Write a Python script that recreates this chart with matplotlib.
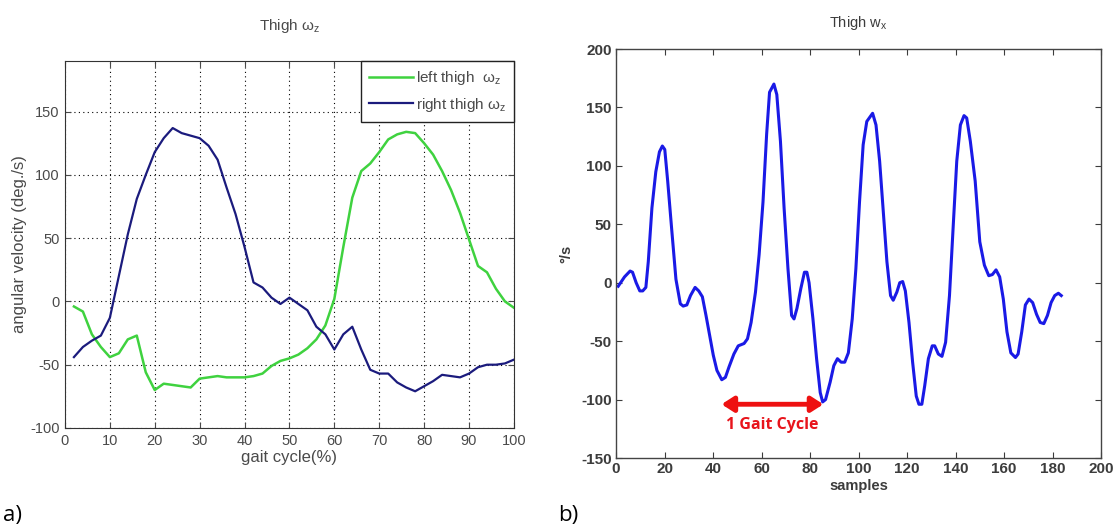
"""Thigh angular velocity: a) left/right thigh over gait cycle, b) raw thigh w_x samples."""
import matplotlib
matplotlib.use("Agg")
import matplotlib.pyplot as plt

plt.rcParams["font.family"] = ["Liberation Sans", "DejaVu Sans"]
plt.rcParams["mathtext.fontset"] = "custom"
plt.rcParams["mathtext.rm"] = "Liberation Sans"
plt.rcParams["mathtext.bf"] = "Liberation Sans:bold"
plt.rcParams["axes.unicode_minus"] = False

# ---- panel a) data: gait cycle (%) vs angular velocity (deg/s)
GAIT = list(range(2, 101, 2))
LEFT_THIGH = [-4, -8, -26, -36, -44, -41, -30, -27, -56, -70,
              -65, -66, -67, -68, -61, -60, -59, -60, -60, -60,
              -59, -57, -51, -47, -45, -42, -37, -30, -19, 2,
              43, 82, 103, 109, 118, 128, 132, 134, 133, 125,
              116, 103, 88, 70, 49, 28, 23, 10, 0, -5]
RIGHT_THIGH = [-44, -36, -31, -27, -13, 20, 53, 81, 100, 118,
               129, 137, 133, 131, 129, 123, 112, 90, 69, 43,
               15, 11, 3, -2, 3, -2, -7, -20, -26, -38,
               -26, -20, -38, -54, -57, -57, -64, -68, -71, -67,
               -63, -58, -59, -60, -57, -52, -50, -50, -49, -46]

# ---- panel b) data: sample index vs thigh w_x (deg/s)
SAMPLES = [0.9, 3.5, 5.8, 6.8, 8.3, 9.8, 11, 12.3, 13.3, 14.8, 16.4, 17.9, 19.1,
           20.1, 21.3, 22.9, 24.7, 26.5, 27.7, 29.2, 30.7, 32.6, 34.1, 35.6, 37.1,
           38.6, 40.1, 41.6, 43.6, 45.1, 46.6, 48.6, 50.4, 52.8, 54.2, 55.7, 57.5,
           59, 60.6, 62.1, 63.3, 65.1, 66.3, 67.8, 69.3, 70.9, 72.4, 73.4, 74.6,
           76.2, 77.7, 78.7, 79.6, 81.2, 82.7, 84.2, 85.2, 86.4, 88.3, 89.8, 91.3,
           92.8, 94.3, 95.8, 97.4, 98.9, 100.4, 101.9, 103.4, 105.8, 107.2, 108.7,
           110.2, 111.7, 113.2, 114.3, 115.8, 117, 118.2, 119.3, 120.8, 122.3,
           123.8, 124.9, 126.1, 127.3, 128.8, 130.4, 131.4, 132.9, 134.4, 135.9,
           137.5, 139, 140.5, 142, 143.5, 144.6, 146.1, 148.1, 150, 151.9, 153.7,
           155.2, 156.7, 158.2, 159.7, 161.2, 162.8, 164.7, 165.8, 167.3, 168.8,
           170.3, 171.8, 173.4, 174.9, 176.4, 177.9, 179.4, 180.9, 182.4, 183.6]
WX = [-3, 5, 10, 9, 0, -7, -7, -4, 18, 64, 95, 112, 117,
      114, 87, 47, 3, -18, -20, -19, -11, -4, -7, -12, -28,
      -45, -62, -75, -83, -81, -72, -61, -54, -52, -48, -34, -8,
      24, 69, 127, 163, 170, 161, 121, 64, 12, -28, -31, -22,
      -5, 9, 9, 0, -31, -65, -94, -102, -100, -85, -71, -65,
      -68, -68, -60, -31, 12, 69, 118, 138, 145, 135, 104,
      61, 18, -11, -15, -8, 0, 1, -7, -34, -68,
      -97, -104, -104, -88, -65, -54, -54, -61, -63, -51,
      -11, 47, 104, 135, 143, 141, 121, 87, 35, 15, 6,
      7, 11, 5, -14, -42, -60, -64, -61, -42, -19,
      -14, -17, -27, -34, -35, -28, -17, -11, -9, -11]
CYCLE_START, CYCLE_END, CYCLE_Y = 43.5, 85.5, -104

fig = plt.figure(figsize=(11.16, 5.27), dpi=100)

# ---------------- a)
GREY = "#4a4a4a"
ax = fig.add_axes([0.0582, 0.1879, 0.4023, 0.6964])
ax.plot(GAIT, LEFT_THIGH, color="#3fd23f", lw=1.8, label=r"left thigh  ω$_\mathregular{z}$")
ax.plot(GAIT, RIGHT_THIGH, color="#1b1b7d", lw=1.6, label=r"right thigh ω$_\mathregular{z}$")
ax.set_xlim(0, 100)
ax.set_ylim(-100, 190)
ax.set_xticks(range(0, 101, 10))
ax.set_yticks(range(-100, 151, 50))
ax.grid(True, color="black", lw=0.8, linestyle=(0, (1, 3)))
ax.tick_params(direction="in", top=True, right=True, length=4, labelsize=10.5,
               colors=GREY, pad=4)
ax.set_xlabel("gait cycle(%)", fontsize=12, color=GREY, labelpad=2)
ax.set_ylabel("angular velocity (deg./s)", fontsize=12, color=GREY, labelpad=2)
ax.set_title(r"Thigh ω$_\mathregular{z}$", fontsize=11, color=GREY, pad=22)
for s in ax.spines.values():
    s.set_color("#333333")
leg = ax.legend(loc="upper right", borderaxespad=0, fancybox=False, framealpha=1,
                edgecolor="#222222", fontsize=11, handlelength=2.9,
                handletextpad=0.15, labelspacing=0.55, borderpad=0.55)
leg.get_frame().set_linewidth(1.0)
for t in leg.get_texts():
    t.set_color(GREY)

# ---------------- b)
DARK = "#3c3c3c"
bx = fig.add_axes([0.5520, 0.1309, 0.4346, 0.7761])
bx.plot(SAMPLES, WX, color="#1a1ae6", lw=2.2)
bx.set_xlim(0, 200)
bx.set_ylim(-150, 200)
bx.set_xticks(range(0, 201, 20))
bx.set_yticks(range(-150, 201, 50))
bx.tick_params(direction="in", top=True, right=True, length=4, labelsize=11,
               colors=DARK, pad=3)
for lab in bx.get_xticklabels() + bx.get_yticklabels():
    lab.set_fontweight("bold")
for s in bx.spines.values():
    s.set_color("#444444")
    s.set_linewidth(1.0)
bx.set_xlabel("samples", fontsize=10.5, color=DARK, fontweight="bold", labelpad=2)
bx.set_ylabel("°/s", fontsize=10.5, color=DARK, fontweight="bold", labelpad=6)
bx.set_title(r"Thigh w$_\mathregular{x}$", fontsize=10.5, color=DARK, pad=16)
bx.annotate("", xy=(CYCLE_END, CYCLE_Y), xytext=(CYCLE_START, CYCLE_Y),
            arrowprops=dict(arrowstyle="<|-|>,head_length=0.7,head_width=0.45",
                            lw=3.5, color="#ee1111", shrinkA=0, shrinkB=0))
bx.text((CYCLE_START + CYCLE_END) / 2, CYCLE_Y - 18, "1 Gait Cycle", color="#e8141b",
        fontsize=11.5, fontweight="bold", ha="center", va="center",
        family=["Open Sans", "DejaVu Sans"])

fig.text(0.003, 0.012, "a)", fontsize=16, color="black", family=["Open Sans"])
fig.text(0.500, 0.012, "b)", fontsize=16, color="black", family=["Open Sans"])

fig.savefig("out.png", dpi=100)
